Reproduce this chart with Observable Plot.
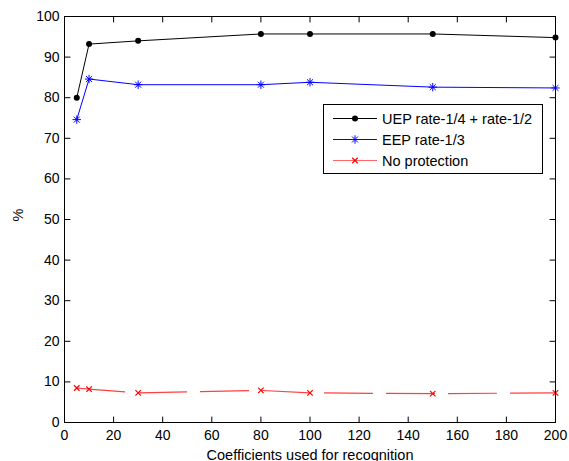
<!DOCTYPE html>
<html>
<head>
<meta charset="utf-8">
<script src="https://cdn.jsdelivr.net/npm/d3@7"></script>
<script src="https://cdn.jsdelivr.net/npm/@observablehq/plot@0.6"></script>
<style>
  html, body { margin: 0; padding: 0; background: #fff; }
  #wrap { position: relative; width: 569px; height: 461px; overflow: hidden; font-family: "Liberation Sans", Arial, sans-serif; }
  #legend { position: absolute; left: 323px; top: 104px; }
</style>
</head>
<body>
<div id="wrap"></div>
<script>
// ---- data ----
const coefficients = [5, 10, 30, 80, 100, 150, 200];
const uep = [80.0, 93.2, 94.0, 95.7, 95.7, 95.7, 94.8];
const eep = [74.6, 84.6, 83.2, 83.2, 83.8, 82.6, 82.4];
const noProtection = [8.5, 8.2, 7.3, 7.9, 7.3, 7.1, 7.3];
const seriesNames = ["UEP rate-1/4 + rate-1/2", "EEP rate-1/3", "No protection"];
const xTicks = [0, 20, 40, 60, 80, 100, 120, 140, 160, 180, 200];
const yTicks = [0, 10, 20, 30, 40, 50, 60, 70, 80, 90, 100];
const xLabel = "Coefficients used for recognition";
const yLabel = "%";

const rowsOf = (vals) => coefficients.map((c, i) => ({x: c, y: vals[i]}));
const uepRows = rowsOf(uep), eepRows = rowsOf(eep), npRows = rowsOf(noProtection);

// MATLAB-style '*' marker (plus + times)
const matlabStar = {
  draw(ctx, size) {
    const r = Math.sqrt(size / Math.PI);
    const d = r * Math.SQRT1_2;
    ctx.moveTo(-r, 0); ctx.lineTo(r, 0);
    ctx.moveTo(0, -r); ctx.lineTo(0, r);
    ctx.moveTo(-d, -d); ctx.lineTo(d, d);
    ctx.moveTo(-d, d); ctx.lineTo(d, -d);
  }
};
const tickShape = { draw(ctx, l) { ctx.moveTo(0, 0); ctx.lineTo(0, -l); } };
const TL = 5.5;

const redDash = "48,14";

const chart = Plot.plot({
  width: 569,
  height: 461,
  marginLeft: 64,
  marginRight: 14,
  marginTop: 16,
  marginBottom: 39,
  style: { fontFamily: "'Liberation Sans', Arial, sans-serif", fontSize: "14px", background: "#fff", color: "#000" },
  x: { domain: [0, 200] },
  y: { domain: [0, 100] },
  marks: [
    Plot.axisX({ ticks: xTicks, tickSize: 0, tickPadding: 8, label: null, tickFormat: d => String(d) }),
    Plot.axisY({ ticks: yTicks, tickSize: 0, tickPadding: 5, label: null, tickFormat: d => String(d) }),
    Plot.vector(xTicks, { x: d => d, frameAnchor: "bottom", length: TL, rotate: 0, anchor: "start", shape: tickShape, stroke: "#000", strokeWidth: 1 }),
    Plot.vector(xTicks, { x: d => d, frameAnchor: "top", length: TL, rotate: 180, anchor: "start", shape: tickShape, stroke: "#000", strokeWidth: 1 }),
    Plot.vector(yTicks, { y: d => d, frameAnchor: "left", length: TL, rotate: 90, anchor: "start", shape: tickShape, stroke: "#000", strokeWidth: 1 }),
    Plot.vector(yTicks, { y: d => d, frameAnchor: "right", length: TL, rotate: -90, anchor: "start", shape: tickShape, stroke: "#000", strokeWidth: 1 }),
    Plot.line(npRows, { x: "x", y: "y", stroke: "#ff0000", strokeOpacity: 0.75, strokeWidth: 1.2, strokeDasharray: redDash }),
    Plot.dot(npRows, { x: "x", y: "y", symbol: "times", r: 2.6, stroke: "#ff0000", strokeWidth: 1.2, fill: "none" }),
    Plot.line(eepRows, { x: "x", y: "y", stroke: "#0000ff", strokeWidth: 1 }),
    Plot.dot(eepRows, { x: "x", y: "y", symbol: matlabStar, r: 4.2, stroke: "#0000ff", strokeWidth: 1, fill: "none" }),
    Plot.line(uepRows, { x: "x", y: "y", stroke: "#000", strokeWidth: 1 }),
    Plot.dot(uepRows, { x: "x", y: "y", r: 3, fill: "#000", stroke: "none" }),
    Plot.frame({ stroke: "#000", strokeWidth: 1 }),
    Plot.text([xLabel], { text: d => d, frameAnchor: "bottom", dy: 32.5, lineAnchor: "middle", fontSize: 14.5, fill: "#000" }),
    Plot.text([yLabel], { text: d => d, frameAnchor: "left", dx: -46, dy: 2, rotate: -90, lineAnchor: "middle", fontSize: 14.5, fill: "#000" })
  ]
});

const wrap = document.getElementById("wrap");
wrap.appendChild(chart);

// ---- legend ----
const LW = 220, LH = 70;
const legendDiv = document.createElement("div");
legendDiv.id = "legend";
wrap.appendChild(legendDiv);
const svg = d3.select(legendDiv).append("svg").attr("width", LW).attr("height", LH)
  .style("display", "block").style("overflow", "visible");
svg.append("rect").attr("x", 0.5).attr("y", 0.5).attr("width", LW - 1).attr("height", LH - 1)
  .attr("fill", "#fff").attr("stroke", "#000");
const legendStyles = [
  { stroke: "#000", opacity: 1, marker: "dot" },
  { stroke: "#0000ff", opacity: 1, marker: "star" },
  { stroke: "#ff0000", opacity: 0.6, marker: "times" }
];
const rowY = [14.5, 35.5, 56.5];
seriesNames.forEach((name, i) => {
  const st = legendStyles[i];
  const g = svg.append("g").attr("transform", `translate(0,${rowY[i]})`);
  g.append("line").attr("x1", 10).attr("x2", 54).attr("y1", 0).attr("y2", 0)
    .attr("stroke", st.stroke).attr("stroke-opacity", st.opacity).attr("stroke-width", 1);
  if (st.marker === "dot") {
    g.append("circle").attr("cx", 32).attr("cy", 0).attr("r", 3).attr("fill", "#000");
  } else if (st.marker === "star") {
    g.append("path").attr("transform", "translate(32,0)")
      .attr("d", d3.symbol(matlabStar, Math.PI * 4.2 * 4.2)())
      .attr("fill", "none").attr("stroke", st.stroke);
  } else {
    g.append("path").attr("transform", "translate(32,0)")
      .attr("d", d3.symbol(d3.symbolTimes, Math.PI * 2.6 * 2.6)())
      .attr("fill", "none").attr("stroke", "#ff0000").attr("stroke-width", 1.2);
  }
  g.append("text").attr("x", 59).attr("y", 0).attr("dy", "0.35em")
    .attr("font-family", "'Liberation Sans', Arial, sans-serif").attr("font-size", 14.5)
    .attr("fill", "#000").text(name);
});
</script>
</body>
</html>
